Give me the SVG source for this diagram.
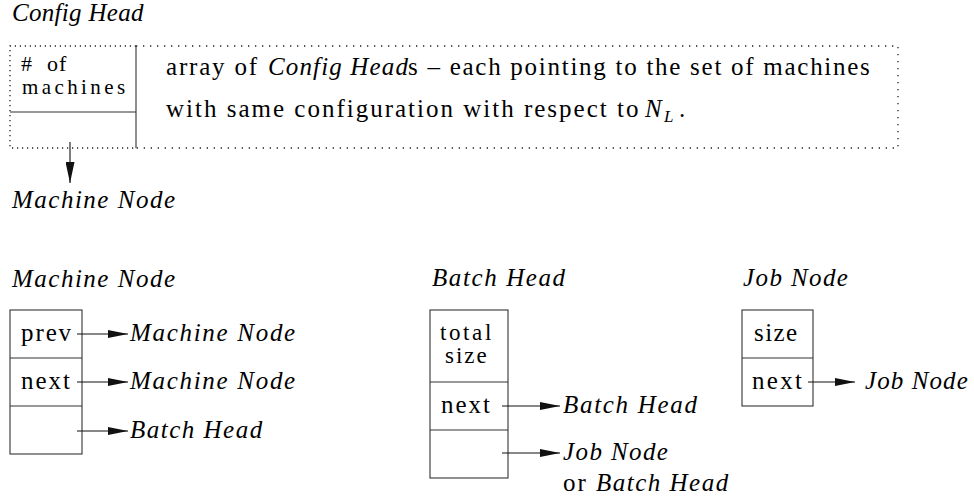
<svg xmlns="http://www.w3.org/2000/svg" width="974" height="498" viewBox="0 0 974 498" font-family="Liberation Serif, serif">
<style>
.box{fill:none;stroke:#333;stroke-width:1.1}
.dot{fill:none;stroke:#222;stroke-width:1.3;stroke-dasharray:1.3 5.7}
.dot2{fill:none;stroke:#222;stroke-width:1.3;stroke-dasharray:1.2 3.8}
</style>
<defs>
<marker id="ah" viewBox="0 0 20 8" markerWidth="20" markerHeight="8" refX="20" refY="4" orient="auto" markerUnits="userSpaceOnUse"><path d="M0,0 L20,4 L0,8 z" fill="#111"/></marker>
<marker id="ahv" viewBox="0 0 21 9" markerWidth="21" markerHeight="9" refX="21" refY="4.5" orient="auto" markerUnits="userSpaceOnUse"><path d="M0,0 L21,4.5 L0,9 z" fill="#111"/></marker>
</defs>
<rect width="974" height="498" fill="#fff"/>

<g id="config-head" font-size="25">
<text font-family="Liberation Serif" style="font-family:'Liberation Serif',serif" font-style="italic" x="12" y="21" letter-spacing="0.3">Config Head</text>
<path class="dot" d="M136,46 H898 V148 H136"/>
<path class="dot2" d="M136,46 H10 V148 H136"/>
<path class="box" d="M136,46 V148 M10,112 H136"/>
<text font-family="Liberation Serif" style="font-family:'Liberation Serif',serif" font-size="22" x="21" y="71">#<tspan x="47" letter-spacing="1">of</tspan></text>
<text font-family="Liberation Serif" style="font-family:'Liberation Serif',serif" font-size="21" x="22" y="94" letter-spacing="3.4">machines</text>
<text font-family="Liberation Serif" style="font-family:'Liberation Serif',serif" x="166" y="75" letter-spacing="1.8">array of</text>
<text font-family="Liberation Serif" style="font-family:'Liberation Serif',serif" font-style="italic" x="268" y="75" letter-spacing="1.15">Config Head</text>
<text font-family="Liberation Serif" style="font-family:'Liberation Serif',serif" x="408" y="75" letter-spacing="1.73">s – each pointing to the set of machines</text>
<text font-family="Liberation Serif" style="font-family:'Liberation Serif',serif" x="166" y="117" letter-spacing="2.0">with same configuration with respect to</text>
<text font-family="Liberation Serif" style="font-family:'Liberation Serif',serif" font-style="italic" x="645" y="117">N</text>
<text font-family="Liberation Serif" style="font-family:'Liberation Serif',serif" font-style="italic" font-size="17" x="664" y="122">L</text>
<text font-family="Liberation Serif" style="font-family:'Liberation Serif',serif" x="679" y="117">.</text>
</g>

<g id="config-target" font-size="25">
<text font-family="Liberation Serif" style="font-family:'Liberation Serif',serif" font-style="italic" x="12" y="208" letter-spacing="1.5">Machine Node</text>
</g>

<g id="machine-node" font-size="25">
<text font-family="Liberation Serif" style="font-family:'Liberation Serif',serif" font-style="italic" x="12" y="287" letter-spacing="1.5">Machine Node</text>
<rect class="box" x="10" y="310" width="72" height="144"/>
<path class="box" d="M10,358 H82 M10,406 H82"/>
<text font-family="Liberation Serif" style="font-family:'Liberation Serif',serif" x="21" y="341" letter-spacing="1.9">prev</text>
<text font-family="Liberation Serif" style="font-family:'Liberation Serif',serif" x="21" y="389" letter-spacing="2.0">next</text>
<text font-family="Liberation Serif" style="font-family:'Liberation Serif',serif" font-style="italic" x="130" y="341" letter-spacing="1.7">Machine Node</text>
<text font-family="Liberation Serif" style="font-family:'Liberation Serif',serif" font-style="italic" x="130" y="389" letter-spacing="1.7">Machine Node</text>
<text font-family="Liberation Serif" style="font-family:'Liberation Serif',serif" font-style="italic" x="130" y="438" letter-spacing="1.5">Batch Head</text>
</g>

<g id="batch-head" font-size="25">
<text font-family="Liberation Serif" style="font-family:'Liberation Serif',serif" font-style="italic" x="432" y="286" letter-spacing="1.6">Batch Head</text>
<rect class="box" x="430" y="310" width="78" height="168"/>
<path class="box" d="M430,382 H508 M430,430 H508"/>
<text font-family="Liberation Serif" style="font-family:'Liberation Serif',serif" font-size="23" x="440" y="340" letter-spacing="2.6">total</text>
<text font-family="Liberation Serif" style="font-family:'Liberation Serif',serif" font-size="23" x="445" y="363" letter-spacing="2.0">size</text>
<text font-family="Liberation Serif" style="font-family:'Liberation Serif',serif" x="441" y="413" letter-spacing="2.0">next</text>
<text font-family="Liberation Serif" style="font-family:'Liberation Serif',serif" font-style="italic" x="563" y="413" letter-spacing="1.7">Batch Head</text>
<text font-family="Liberation Serif" style="font-family:'Liberation Serif',serif" font-style="italic" x="563" y="460" letter-spacing="1.4">Job Node</text>
<text font-family="Liberation Serif" style="font-family:'Liberation Serif',serif" x="563" y="491" letter-spacing="2">or</text>
<text font-family="Liberation Serif" style="font-family:'Liberation Serif',serif" font-style="italic" x="596" y="491" letter-spacing="1.5">Batch Head</text>
</g>

<g id="job-node" font-size="25">
<text font-family="Liberation Serif" style="font-family:'Liberation Serif',serif" font-style="italic" x="743" y="286" letter-spacing="1.4">Job Node</text>
<rect class="box" x="742" y="310" width="71" height="96"/>
<path class="box" d="M742,358 H813"/>
<text font-family="Liberation Serif" style="font-family:'Liberation Serif',serif" x="754" y="341" letter-spacing="1.4">size</text>
<text font-family="Liberation Serif" style="font-family:'Liberation Serif',serif" x="752" y="389" letter-spacing="2.3">next</text>
<text font-family="Liberation Serif" style="font-family:'Liberation Serif',serif" font-style="italic" x="865" y="389" letter-spacing="1.1">Job Node</text>
</g>

<g id="connectors" stroke="#111" stroke-width="1.1" fill="none">
<line x1="70" y1="142" x2="70" y2="183" marker-end="url(#ahv)"/>
<line x1="77" y1="334" x2="128" y2="334" marker-end="url(#ah)"/>
<line x1="77" y1="382" x2="128" y2="382" marker-end="url(#ah)"/>
<line x1="77" y1="431" x2="128" y2="431" marker-end="url(#ah)"/>
<line x1="502" y1="406" x2="560" y2="406" marker-end="url(#ah)"/>
<line x1="502" y1="453" x2="560" y2="453" marker-end="url(#ah)"/>
<line x1="808" y1="382" x2="855" y2="382" marker-end="url(#ah)"/>
</g>
</svg>
